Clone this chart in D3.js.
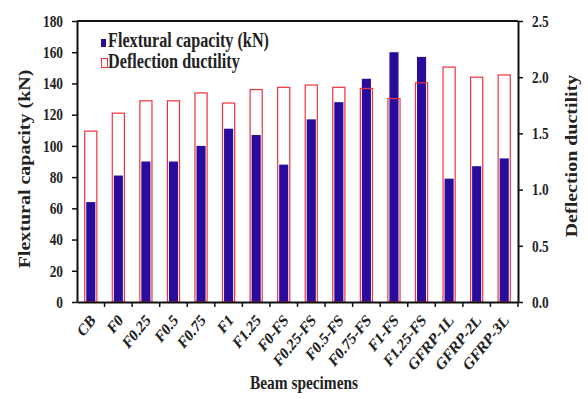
<!DOCTYPE html>
<html>
<head>
<meta charset="utf-8">
<script src="https://cdn.jsdelivr.net/npm/d3@7/dist/d3.min.js"></script>
<style>
  html, body { margin: 0; padding: 0; background: #fff; }
  svg { display: block; }
  text { font-family: "Liberation Serif", "Times New Roman", serif; font-weight: bold; fill: #222; }
</style>
</head>
<body>
<svg id="chart" width="588" height="399"></svg>
<script>
// Beam specimens and measured results
const categories = ["CB", "F0", "F0.25", "F0.5", "F0.75", "F1", "F1.25", "F0-FS", "F0.25-FS",
  "F0.5-FS", "F0.75-FS", "F1-FS", "F1.25-FS", "GFRP-1L", "GFRP-2L", "GFRP-3L"];
const flexuralCapacity = [64, 81, 90, 90, 100, 111, 107, 88, 117, 128, 143, 160, 157, 79, 87, 92];
const deflectionDuctility = [1.52, 1.68, 1.79, 1.79, 1.86, 1.77, 1.89, 1.91, 1.93, 1.91, 1.90, 1.81, 1.95, 2.09, 2.00, 2.02];
const leftTicks = [0, 20, 40, 60, 80, 100, 120, 140, 160, 180];
const rightTicks = [0.0, 0.5, 1.0, 1.5, 2.0, 2.5];
const seriesNames = ["Flextural capacity (kN)", "Deflection ductility"];

const svg = d3.select("#chart");
const m = { left: 77, right: 518, top: 21, bottom: 302 };
const SQ = 0.81;          // horizontal condensing of the serif lettering
const FONT = "'Liberation Serif', 'Times New Roman', serif";

const x = d3.scaleBand().domain(categories).range([m.left, m.right]).padding(0);
const yL = d3.scaleLinear().domain([0, 180]).range([m.bottom, m.top]);
const yR = d3.scaleLinear().domain([0, 2.5]).range([m.bottom, m.top]);

const blue = "#2a0c9c";
const red = "#f0323c";
const outerW = x.bandwidth() * 0.44;
const innerW = x.bandwidth() * 0.33;

// Flexural capacity bars (left axis)
svg.append("g").selectAll("rect")
  .data(categories)
  .join("rect")
  .attr("x", (d) => x(d) + x.bandwidth() / 2 - innerW / 2)
  .attr("width", innerW)
  .attr("y", (d, i) => yL(flexuralCapacity[i]))
  .attr("height", (d, i) => m.bottom - yL(flexuralCapacity[i]))
  .attr("fill", blue);

// Deflection ductility bars (right axis), outline only
svg.append("g").selectAll("rect")
  .data(categories)
  .join("rect")
  .attr("x", (d) => x(d) + x.bandwidth() / 2 - outerW / 2)
  .attr("width", outerW)
  .attr("y", (d, i) => yR(deflectionDuctility[i]))
  .attr("height", (d, i) => m.bottom - yR(deflectionDuctility[i]))
  .attr("fill", "none")
  .attr("stroke", red)
  .attr("stroke-width", 1.2);

// Frame top line
svg.append("line")
  .attr("x1", m.left).attr("x2", m.right)
  .attr("y1", m.top).attr("y2", m.top)
  .attr("stroke", "#111").attr("stroke-width", 2);

// Left axis
const tick = 5, pad = 9;
const gL = svg.append("g").attr("transform", `translate(${m.left},0)`)
  .call(d3.axisLeft(yL).tickValues(leftTicks).tickSize(tick).tickPadding(pad).tickSizeOuter(0));
gL.selectAll(".tick text")
  .attr("x", 0)
  .attr("transform", `translate(${-(tick + pad)},0) scale(${SQ},1)`);

// Right axis
const gR = svg.append("g").attr("transform", `translate(${m.right},0)`)
  .call(d3.axisRight(yR).tickValues(rightTicks).tickSize(tick).tickPadding(pad).tickSizeOuter(0)
    .tickFormat(d3.format(".1f")));
gR.selectAll(".tick text")
  .attr("x", 0)
  .attr("transform", `translate(${tick + pad},0) scale(${SQ},1)`);

// Bottom axis with ticks on band boundaries
const gB = svg.append("g").attr("transform", `translate(0,${m.bottom})`)
  .call(d3.axisBottom(x).tickSize(0).tickPadding(8).tickSizeOuter(0));
gB.append("g").selectAll("line")
  .data(categories)
  .join("line")
  .attr("x1", (d) => x(d) + x.bandwidth())
  .attr("x2", (d) => x(d) + x.bandwidth())
  .attr("y1", 0).attr("y2", 5)
  .attr("stroke", "#111").attr("stroke-width", 1.5);

[gL, gR, gB].forEach((g) => {
  g.select(".domain").attr("stroke", "#111").attr("stroke-width", 2);
  g.selectAll(".tick line").attr("stroke", "#111").attr("stroke-width", 1.5);
  g.selectAll("text").attr("font-size", 16.5).attr("fill", "#222")
    .attr("font-family", FONT).attr("font-weight", "bold");
});

gB.selectAll(".tick text")
  .attr("font-size", 17)
  .attr("text-anchor", "end")
  .attr("x", 0).attr("y", 0)
  .attr("dy", "0.35em")
  .attr("transform", `translate(2,15) scale(${SQ},1) rotate(-45)`);

// Axis titles
svg.append("text")
  .attr("transform", `translate(24,${169}) scale(${SQ},1) rotate(-90)`)
  .attr("text-anchor", "middle").attr("dy", "0.35em")
  .attr("font-size", 20).text("Flextural capacity (kN)");
svg.append("text")
  .attr("transform", `translate(571,${156}) scale(${SQ},1) rotate(-90)`)
  .attr("text-anchor", "middle").attr("dy", "0.35em")
  .attr("font-size", 20).text("Deflection ductility");
svg.append("text")
  .attr("transform", `translate(304,389) scale(${SQ},1)`)
  .attr("text-anchor", "middle")
  .attr("font-size", 19).text("Beam specimens");

// Legend
const legend = svg.append("g");
legend.append("rect").attr("x", 101).attr("y", 39).attr("width", 5).attr("height", 8).attr("fill", blue);
legend.append("text").attr("transform", `translate(108,47) scale(${SQ},1)`)
  .attr("font-size", 20).text(seriesNames[0]);
legend.append("rect").attr("x", 101.5).attr("y", 58.5).attr("width", 6).attr("height", 9)
  .attr("fill", "#fff").attr("stroke", red).attr("stroke-width", 1);
legend.append("text").attr("transform", `translate(108,68) scale(${SQ},1)`)
  .attr("font-size", 20).text(seriesNames[1]);
</script>
</body>
</html>
